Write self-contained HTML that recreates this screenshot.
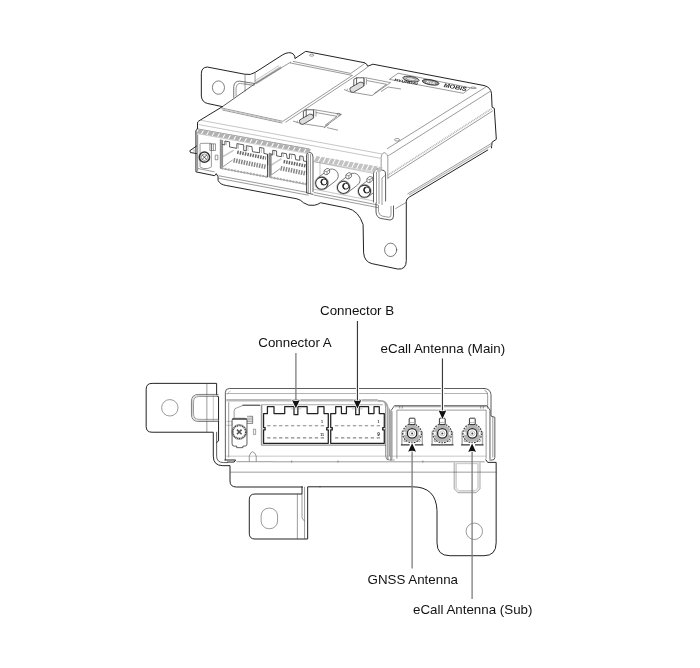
<!DOCTYPE html>
<html lang="en">
<head>
<meta charset="utf-8">
<title>Connector layout</title>
<style>
html,body{margin:0;padding:0;background:#fff;}
body{width:700px;height:668px;overflow:hidden;font-family:"Liberation Sans",sans-serif;}
svg{display:block;will-change:transform;opacity:0.999;}
.k{fill:none;stroke:#222;stroke-width:1;stroke-linejoin:round;stroke-linecap:round;}
.m{fill:none;stroke:#333;stroke-width:0.8;stroke-linejoin:round;stroke-linecap:round;}
.t{fill:none;stroke:#484848;stroke-width:0.55;stroke-linejoin:round;stroke-linecap:butt;}
.h{fill:none;stroke:#808080;stroke-width:0.45;stroke-linejoin:round;stroke-linecap:butt;}
.w{fill:#fff;}
.g{fill:none;stroke:#adadad;stroke-width:1.6;stroke-linejoin:round;stroke-linecap:butt;}
.k,.m,.t,.h,.g,.d{vector-effect:non-scaling-stroke;}
.d{fill:none;stroke:#888;stroke-width:1.1;stroke-dasharray:3.4 2.55;}
.lbl{font-family:"Liberation Sans",sans-serif;font-size:13.35px;fill:#111;}
.ld{fill:none;stroke:#707070;stroke-width:1.25;}
.ah{fill:#111;stroke:none;}
.tiny{font-family:"Liberation Sans",sans-serif;font-weight:bold;font-style:italic;fill:#222;}
</style>
</head>
<body>
<svg width="700" height="668" viewBox="0 0 700 668">
<rect x="0" y="0" width="700" height="668" fill="#fff"/>
<!-- top view right/back (3.889x coords, origin 340,30) -->
<g id="topTR" transform="translate(340 30) scale(0.257143)">
<path class="k" d="M94 127Q106 130 107.5 141L128 133L560 216Q586 222 589 246L591.5 300L600 304.5L608 425L591.5 436L589 458.5"/>
<!-- right face lines -->
<path class="t" d="M566.6 222L183 462 M583.4 239L187 489.6"/>
<path class="t" d="M594.6 314L187 575"/>
<path d="M589.6 306L187 564" fill="none" stroke="#b4b4b4" stroke-width="1.7" stroke-dasharray="1 .8" vector-effect="non-scaling-stroke"/>
<path class="t" d="M589 441L262 638"/>
<path class="g" d="M589 449L268 642" style="stroke:#b8b8b8;stroke-width:1.2"/>
<!-- front-right corner -->
<path class="t" d="M160 500Q160 480 172 477Q186 480 186 500V580 M160 500V560"/>
<ellipse class="m" cx="197" cy="855" rx="23.5" ry="26" style="stroke:#444;stroke-width:.7"/>
<path class="t" d="M258 670L215 695"/>
<!-- label -->
<path class="t" d="M192 192L226 168L508 225L480 246Z"/>
<ellipse cx="276" cy="191" rx="32" ry="10" transform="rotate(10 276 191)" fill="#bbb" stroke="#333" style="stroke-width:.9" vector-effect="non-scaling-stroke"/>
<ellipse cx="276" cy="191" rx="18" ry="5" transform="rotate(10 276 191)" fill="#eee" stroke="#555" style="stroke-width:.5" vector-effect="non-scaling-stroke"/>
<ellipse cx="352.5" cy="203.5" rx="33" ry="9.5" transform="rotate(10 352.5 203.5)" fill="#999" stroke="#222" style="stroke-width:.9" vector-effect="non-scaling-stroke"/>
<path class="t" d="M511 222Q522 220 530 226Q520 229 511 227Z"/>
<ellipse class="t" cx="222" cy="427" rx="10" ry="5"/>
<ellipse class="t" cx="-5" cy="328" rx="6" ry="4"/>
</g>
<g class="tiny" transform="translate(340 30) scale(0.257143) rotate(10.5)">
<text x="243" y="156" font-size="13.5" textLength="92" lengthAdjust="spacingAndGlyphs">HYUNDAI</text>
<text x="366" y="141" font-size="12" textLength="36" lengthAdjust="spacingAndGlyphs" style="fill:#fff">KIA</text>
<text x="436" y="144.5" font-size="22" textLength="90" lengthAdjust="spacingAndGlyphs">MOBIS</text>
</g>

<!-- top view, traced in 3.889x coords, origin 180,30 -->
<g id="topTL" transform="translate(180 30) scale(0.257143)">
<!-- tab -->
<path class="k" d="M165 298L108 286Q85 281 83 257V170Q83 145 106 144L252 172Q275 177 292 165L400 96Q425 82 440 93Q449 101 447 111L489 83L716 127"/>
<ellipse class="t" cx="149.5" cy="224" rx="23.5" ry="26" style="stroke:#555;stroke-width:.75"/>
<path class="t" d="M253 172V239 M292 167V206 M275 214L236 208Q220 207 218 226V257"/>
<path class="m" d="M290 208L232 199Q211 198 209 220V262" style="stroke:#444;stroke-width:.75"/>
<path class="g" d="M250 209L290 215" style="stroke:#999;stroke-width:.9"/>
<path class="h" d="M292 205L392 142 M295 211L395 148 M290 199L385 138"/>
<path class="g" d="M294 207L392 145" style="stroke-width:1.2;stroke:#aaa"/>
<!-- box left edge -->
<path class="k" d="M62 400V392Q62 388 68 385V362Q68 357 73 354L165 298"/>
<path class="m" d="M165 298L290 210"/>
<path class="t" d="M290 210L432 124"/>
<ellipse class="t" cx="512" cy="98" rx="8" ry="4"/>
<!-- raised cover -->
<path class="t" d="M439 122L664 169 M428 128L672 177 M160 303L400 355 M165 311L398 362"/>
<path class="g" d="M163 307L399 358" style="stroke-width:1;stroke:#c4c4c4"/>
<path class="t" d="M400 355L668 178 M410 359L680 180 M664 169L716 132 M680 180L730 144"/>

<!-- front top edge lines -->
<path class="h" d="M80 351L785 482 M72 367.5L780 499"/>
</g>

<!-- top view front face (3.889x coords, origin 180,150) -->
<g id="topBL" transform="translate(180 150) scale(0.257143)">
<!-- bottom outline -->
<path class="k" d="M62 -65V85L135 100L141 92L148 104V118Q156 135 180 138L455 190Q470 194 480 205Q500 219 522 215Q538 212 546 205L650 226Q695 236 712 290L714 400Q717 435 747 442L847 463Q880 466 880 430V200Q880 190 892 183L1197 0"/>
<!-- ear -->
<path class="k" d="M68 -18L38 3L41 10L66 14"/>
<path class="g" d="M68 -60V82" style="stroke:#999;stroke-width:1.4"/>
<path class="t" d="M78 -22Q78 -26 82 -26H118Q122 -26 122 -22V64Q122 68 118 68L108 72H92L82 68Q78 68 78 64Z"/>
<circle cx="95" cy="28" r="20" fill="none" stroke="#333" stroke-width="1.5" vector-effect="non-scaling-stroke"/>
<circle class="t" cx="95" cy="28" r="12.5"/>
<path class="m" d="M87 20L103 36M103 20L87 36"/>
<path class="t" d="M116 -24H138V2H116Z M123 -24V2 M130 -24V2 M137 20H147V38H137Z"/>
<path class="h" d="M50 0H62 M50 4H62"/>
<!-- lines under connectors -->
<path class="t" d="M150 100L500 166 M150 110L500 176 M70 72L135 85"/>
<!-- bay bottom lines -->
<path class="t" d="M520 165L700 200L770 214 M520 175L770 224"/>
</g>

<!-- top view: lip band, connectors, antennas (src coords) -->
<g id="topdet">
<!-- lip band outlines -->
<path class="t" d="M196.5 128.7L309.5 149"/>
<path class="h" d="M197 133.6L309 153.8 M314 161.6L378 172.8" style="stroke:#999"/>
<!-- connector A housing -->
<path d="M221.4 139.8V168.6" fill="none" stroke="#999" stroke-width="2"/>
<path class="t" d="M220.3 139.5V168.2L267 177 M222.6 140V166.4 M267.6 154.3V177"/>
<path d="M221.5 168.2L267 176.8" fill="none" stroke="#aaa" stroke-width="2.2" stroke-dasharray="1.8 1.4"/>
<path class="m" d="M222.6 144.5L224.9 144.9V141L229.6 141.9V147L236.9 148.3V143.6L243.7 144.8V150.4L246.3 150.9V145.7L251.9 146.6L252.5 151.7L259.6 152.8V147.4L263.9 148.3V153.4L267.7 154.3V165"/>
<path class="h" d="M226.5 141.3V145.2 M238.5 143.9V148.6 M248 146V151 M261.5 147.7V153"/>
<path d="M237.2 152.2L266 158.2" fill="none" stroke="#666" stroke-width="3.4" stroke-dasharray="1.5 1.1"/>
<path d="M233.5 160.3L266.5 167" fill="none" stroke="#888" stroke-width="4.6" stroke-dasharray="1.5 1.1"/>
<path d="M222.6 156.8L233.4 150.4" fill="none" stroke="#888" stroke-width="1.3" stroke-dasharray="0.7 0.5"/>
<path class="t" d="M222.6 167L232.6 160"/>
<!-- connector B housing -->
<path d="M270.2 153V176.8" fill="none" stroke="#999" stroke-width="1.7"/>
<path class="m" d="M267.6 154.3V177"/>
<path class="t" d="M269.3 152.6V177.2L306.6 184.4 M271.2 153V175.2 M306.6 161.4V184"/>
<path d="M270.5 177.2L306.6 184.2" fill="none" stroke="#aaa" stroke-width="2.2" stroke-dasharray="1.8 1.4"/>
<path class="m" d="M271.2 154.8L272.7 155V150.3L276.6 150.9V155.9L281.7 156.7V152.9L286.4 153.7L287.2 158.4L289.4 158.6V153.9L295 154.8L295.7 159.7L299.7 160.3V155.9L303.1 156.4L303.5 161L306.6 161.5V174.3"/>
<path class="h" d="M274.2 150.5V155.2 M283.5 153.2V157 M291.5 154.2V159 M301 156V160.6"/>
<path d="M283.6 161.5L305.7 165.9" fill="none" stroke="#666" stroke-width="3.4" stroke-dasharray="1.5 1.1"/>
<path d="M280.6 168.2L305.8 173.4" fill="none" stroke="#888" stroke-width="4.6" stroke-dasharray="1.5 1.1"/>
<path d="M270.5 165.6L281.3 158.9" fill="none" stroke="#888" stroke-width="1.3" stroke-dasharray="0.7 0.5"/>
<path class="t" d="M271.4 175L280 168.7"/>
<!-- divider post -->
<path class="m" d="M306.5 156Q306.5 152 310 152.3Q313 153 313 157V191.5 M306.5 156V193L313 194.3"/>
<path class="g" d="M308.2 154V193" style="stroke:#999;stroke-width:1.2"/>
<path class="t" d="M310.5 154V193.5"/>
<!-- bay -->
<path class="h" d="M313 161.5L374 173.5 M320 162V188 M313 189L374 201"/>
</g>
<g transform="translate(321.7 183.2)">
<path class="w" d="M-4 -5.25L6 -12.85A6.6 6.6 0 0 1 14 -2.35L4 5.25Z"/>
<path class="m" d="M-4 -5.25L6 -12.85A6.6 6.6 0 0 1 14 -2.35L4 5.25" style="stroke:#444;stroke-width:.7"/>
<path d="M2.4 -9.6V-12.6L5 -14.6Q7.2 -15.2 7.9 -13.4V-10.6L5.4 -8.6Q3.4 -8.2 2.4 -9.6Z" fill="#fff" stroke="#444" stroke-width=".7"/>
<path class="t" d="M2.4 -12.6Q4 -11.4 5.4 -11.8L7.9 -13.4 M5.4 -11.8V-8.6"/>
<circle class="w" r="6.6"/>
<circle r="6.1" fill="none" stroke="#333" stroke-width="1.05"/>
<circle class="h" r="6.9"/>
<circle cx="2.3" cy="-1.2" r="3" fill="#fff" stroke="#333" stroke-width="1"/>
<path d="M1 -3.8A3 3 0 0 0 1.6 1.6" fill="none" stroke="#222" stroke-width="1.4"/>
</g>
<g transform="translate(343.5 187.4)">
<path class="w" d="M-4 -5.25L6 -12.85A6.6 6.6 0 0 1 14 -2.35L4 5.25Z"/>
<path class="m" d="M-4 -5.25L6 -12.85A6.6 6.6 0 0 1 14 -2.35L4 5.25" style="stroke:#444;stroke-width:.7"/>
<path d="M2.4 -9.6V-12.6L5 -14.6Q7.2 -15.2 7.9 -13.4V-10.6L5.4 -8.6Q3.4 -8.2 2.4 -9.6Z" fill="#fff" stroke="#444" stroke-width=".7"/>
<path class="t" d="M2.4 -12.6Q4 -11.4 5.4 -11.8L7.9 -13.4 M5.4 -11.8V-8.6"/>
<circle class="w" r="6.6"/>
<circle r="6.1" fill="none" stroke="#333" stroke-width="1.05"/>
<circle class="h" r="6.9"/>
<circle cx="2.3" cy="-1.2" r="3" fill="#fff" stroke="#333" stroke-width="1"/>
<path d="M1 -3.8A3 3 0 0 0 1.6 1.6" fill="none" stroke="#222" stroke-width="1.4"/>
</g>
<g transform="translate(364.5 191.2)">
<path class="w" d="M-4 -5.25L6 -12.85A6.6 6.6 0 0 1 14 -2.35L4 5.25Z"/>
<path class="m" d="M-4 -5.25L6 -12.85A6.6 6.6 0 0 1 14 -2.35L4 5.25" style="stroke:#444;stroke-width:.7"/>
<path d="M2.4 -9.6V-12.6L5 -14.6Q7.2 -15.2 7.9 -13.4V-10.6L5.4 -8.6Q3.4 -8.2 2.4 -9.6Z" fill="#fff" stroke="#444" stroke-width=".7"/>
<path class="t" d="M2.4 -12.6Q4 -11.4 5.4 -11.8L7.9 -13.4 M5.4 -11.8V-8.6"/>
<circle class="w" r="6.6"/>
<circle r="6.1" fill="none" stroke="#333" stroke-width="1.05"/>
<circle class="h" r="6.9"/>
<circle cx="2.3" cy="-1.2" r="3" fill="#fff" stroke="#333" stroke-width="1"/>
<path d="M1 -3.8A3 3 0 0 0 1.6 1.6" fill="none" stroke="#222" stroke-width="1.4"/>
</g>
<g id="cornerpost">
<path class="w" d="M373 171L376 168.5L384.5 170.5V201L378 204L373 202Z"/>
<path class="m" d="M373.5 202V173.5Q373.5 170 377 168.8L384.2 170.6Q385.6 171.4 385.6 175V201"/>
<path class="t" d="M376.5 172V203 M379 171.5V204 M385.6 175L382 178V205"/>
<path class="m" d="M376 203V212Q376.5 217.5 381 218.5L390 220Q393.5 220 393.5 216V206"/>
<path class="t" d="M378.5 205V211.5Q379 215.5 382.5 216.2L389 217.3Q391 217.3 391 214.5V206"/>
</g>

<!-- hatched lip bands (generated) -->
<g id="bands">
<path d="M196.5 133.2L200.8 134.0L203.0 130.0L198.7 129.2ZM201.9 134.2L206.2 134.9L208.4 130.9L204.1 130.2ZM207.3 135.1L211.6 135.9L213.8 131.9L209.5 131.1ZM212.7 136.1L217.0 136.9L219.2 132.9L214.9 132.1ZM218.1 137.1L222.4 137.8L224.6 133.8L220.3 133.1ZM223.5 138.0L227.8 138.8L230.0 134.8L225.7 134.0ZM228.9 139.0L233.2 139.8L235.4 135.8L231.1 135.0ZM234.3 140.0L238.6 140.7L240.8 136.7L236.5 136.0ZM239.7 140.9L244.0 141.7L246.2 137.7L241.9 136.9ZM245.1 141.9L249.4 142.7L251.6 138.6L247.3 137.9ZM250.5 142.9L254.8 143.6L257.0 139.6L252.7 138.8ZM255.9 143.8L260.2 144.6L262.4 140.6L258.1 139.8ZM261.3 144.8L265.6 145.6L267.8 141.5L263.5 140.8ZM266.7 145.7L271.0 146.5L273.2 142.5L268.9 141.7ZM272.1 146.7L276.4 147.5L278.6 143.5L274.3 142.7ZM277.5 147.7L281.8 148.4L284.0 144.4L279.7 143.7ZM282.9 148.6L287.2 149.4L289.4 145.4L285.1 144.6ZM288.3 149.6L292.6 150.4L294.8 146.4L290.5 145.6ZM293.7 150.6L298.0 151.3L300.2 147.3L295.9 146.6ZM299.1 151.5L303.4 152.3L305.6 148.3L301.3 147.5ZM304.5 152.5L308.8 153.3L311.0 149.3L306.7 148.5Z" fill="#b2b2b2"/>
<path d="M314.0 161.2L317.7 161.8L320.3 156.7L316.6 156.0ZM318.8 162.0L322.5 162.6L325.1 157.5L321.4 156.9ZM323.6 162.8L327.3 163.5L329.9 158.3L326.2 157.7ZM328.4 163.7L332.1 164.3L334.7 159.1L331.0 158.5ZM333.2 164.5L336.9 165.1L339.5 159.9L335.8 159.3ZM338.0 165.3L341.7 165.9L344.3 160.8L340.6 160.1ZM342.8 166.1L346.5 166.7L349.1 161.6L345.4 160.9ZM347.6 166.9L351.3 167.5L353.9 162.4L350.2 161.8ZM352.4 167.7L356.1 168.4L358.7 163.2L355.0 162.6ZM357.2 168.6L360.9 169.2L363.5 164.0L359.8 163.4ZM362.0 169.4L365.7 170.0L368.3 164.8L364.6 164.2ZM366.8 170.2L370.5 170.8L373.1 165.7L369.4 165.0ZM371.6 171.0L375.3 171.6L377.9 166.5L374.2 165.8ZM376.4 171.8L380.1 172.4L382.7 167.3L379.0 166.7Z" fill="#c2c2c2"/>
</g>

<!-- top surface recesses and clips (src coords) -->
<g id="clips">
<!-- recess 1 -->
<path class="t" d="M313.5 109.5L341.5 114.4L324.3 127L299 123 M316 112.5L337 116.3L325 125.3 M293 121L299 123 M324 128L329 124.2 M327 127.6L338 130.2"/>
<path d="M299.6 120L309.6 114.2Q313 113.4 313.4 116.6V118.2L303 124.4Q299.6 124.8 299.6 121.8Z" fill="#ddd" stroke="#333" stroke-width=".8"/>
<path class="m" d="M303.4 117.6V111.4L306 109.8H313.6V116 M306.2 110V116"/>
<path class="t" d="M313.6 110V118 M316 110.5V116.5 M296.5 122L298 120.8"/>
<!-- recess 2 -->
<path class="t" d="M364.5 77.5L390.5 82.6L372 95.6L349.5 91.8 M367 80.6L386.5 84.3L374 93.6 M344 89.5L349.5 91.8 M381 91.6L388 87L401 89"/>
<path d="M350 88L360 82.2Q363.4 81.4 363.8 84.6V86.2L353.4 92.4Q350 92.8 350 89.8Z" fill="#ddd" stroke="#333" stroke-width=".8"/>
<path class="m" d="M353.8 85.6V79.4L356.4 77.8H364V84 M356.6 78V84"/>
<path class="t" d="M364 78V86 M366.4 78.5V84.5 M346.5 90L348 88.8"/>
</g>

<!-- bottom view: left tab + housing left (traced in 3.889x coords, origin 140,370) -->
<g id="botA" transform="translate(140 370) scale(0.257143)">
<path class="k" d="M298 282L305.5 276V104L298 100V52H47Q24 52 24 75V220Q24 242 47 242H285V335Q285 372 322 372H350V432Q350 455 375 455H632"/>
<path class="m" d="M298 242V335Q298 360 325 360H340"/>
<path class="t" d="M260 52V242"/>
<circle class="t" cx="116" cy="147" r="32"/>
<path class="t" d="M305 95H228Q200 95 200 123V172Q200 200 228 200H305" style="stroke:#444;stroke-width:.7"/>
<path class="t" d="M305 103H230Q208 103 208 125V170Q208 192 230 192H305"/>
<path class="g" d="M305 99H229Q204 99 204 124V171Q204 196 229 196H305" style="stroke:#ccc;stroke-width:.9"/>
<path class="h" d="M285 95V200"/>
<!-- housing -->
<path class="m" d="M1340 72H347Q332 72 332 87V350"/>
<path class="k" d="M330 350H372L366 358H340"/>
<path class="h" d="M352 82Q342 84 341 95"/>
<path class="g" d="M334 91.5H1352" style="stroke:#aaa;stroke-width:.9"/>
<path class="t" d="M345 125V340"/>
<path class="g" d="M336 118H925" style="stroke:#bababa;stroke-width:2.5"/>
<path class="h" d="M335 335H1345"/>
<path class="g" d="M375 356H520" style="stroke-width:1.3"/>
<path class="t" d="M520 357H1340 M590 352V360 M770 352V360 M1100 352V360"/>
<!-- screw block -->
<path class="m" d="M358 195Q358 188 366 188H408Q416 188 416 195V288Q416 296 408 296H400V302H376V296H366Q358 296 358 288Z"/>
<circle cx="386" cy="241" r="25" fill="none" stroke="#444" stroke-width="1.5" stroke-dasharray="1.2 .6" vector-effect="non-scaling-stroke"/>
<circle class="t" cx="386" cy="241" r="29"/>
<path d="M377 232L395 250M395 232L377 250" fill="none" stroke="#555" stroke-width="1.6" vector-effect="non-scaling-stroke"/>
<path class="t" d="M416 180H438V208H416 M416 187H438 M416 194H438 M416 201H438"/>
<path class="t" d="M366 188V160Q366 147 380 146L400 138H468"/>
<path class="m" d="M400 136.5H466"/>
<path class="m" d="M360 191H414" style="stroke-width:1.1;stroke:#444"/>
<path class="h" d="M336 200H358V215H336 M441 230H450V250H441Z"/>
<path class="t" d="M425 356V335Q430 318 438 318Q446 318 452 335V356"/>
</g>

<!-- connectors A and B (traced in 7x coords) -->
<g id="connA" transform="translate(250 395) scale(0.142857)">
<path class="g" d="M78 68.5H930" style="stroke:#a8a8a8;stroke-width:1.1"/>
<path class="g" d="M81 70V350" style="stroke:#999;stroke-width:1.6"/>
<path class="g" d="M79 351H950" style="stroke:#999;stroke-width:1.1"/>
<path class="k" style="stroke-width:1.25" d="M95 338V245H106V228H95V130H122V82H168V130H243V82H308V138H335V82H400V130H475V82H518V130H548V228H537V245H548V338Z"/>
<path class="h" d="M285 97H360"/>
<path class="d" d="M120 215H520M120 300H520"/>
<path class="h" d="M25 240H38V278H25Z M0 150H18V200H0"/>
</g>
<g id="connB" transform="translate(320 395) scale(0.142857)">
<path class="k" style="stroke-width:1.25" d="M75 338V245H86V228H75V130H110V82H150V130H185V82H250V138H275V82H340V130H378V82H415V130H450V228H439V245H450V338Z"/>
<path class="h" d="M222 97H300"/>
<path class="d" d="M105 215H425M105 300H425"/>

</g>
<g class="tiny" style="font-style:normal" font-size="3.6">
<text x="321" y="422.5">1</text><text x="320.2" y="435.5">11</text>
<text x="377.5" y="422.5">1</text><text x="377.3" y="435.8" font-size="4.6">9</text>
</g>

<!-- bottom view right part (3.889x coords, origin 320,370) -->
<g id="botB" transform="translate(320 370) scale(0.257143)">
<path class="m" d="M640 72Q662 73 665 95V179L680 184V340Q680 350 670 350H660"/>
<path class="t" d="M640 80Q652 82 652 100V150 M672 182V340"/>

<!-- connector housing right end -->
<path class="g" d="M225 120H236Q258 120 263 145V350" style="stroke-width:1.9;stroke:#a6a6a6"/>
<path class="t" d="M252 130Q255 132 255 150V330Q255 350 270 350H290 M270 150V335"/>
<!-- antenna bay -->
<path class="m" d="M276 350V158L290 138.5H649L661 156V345"/>
<path class="g" d="M291 142H648 M279.5 160V345" style="stroke-width:1.5;stroke:#a6a6a6"/>
<path class="t" d="M299 345V156H646V345 M310 140V150 M320 140V150 M625 140V150 M635 140V150"/>
</g>
<g transform="translate(412.1 433.4)">
<path class="w" d="M-10.8 11.4V0A10 10 0 1 1 10.8 0V11.4Z"/>
<path d="M-10.2 11V-2M10.2 11V-2" fill="none" stroke="#a8a8a8" stroke-width="1.4"/>
<circle r="7.1" fill="none" stroke="#b4b4b4" stroke-width="3.2"/>
<circle r="9.4" fill="none" stroke="#333" stroke-width="1.1" stroke-dasharray="1.7 1.1"/>
<path d="M-2.9 -8.8V-14.4Q-2.9 -15.2 -2.1 -15.2H2.1Q2.9 -15.2 2.9 -14.4V-8.8Z" fill="#fff" stroke="#333" stroke-width="1"/>
<path d="M-2.4 -10.8H2.4" fill="none" stroke="#bbb" stroke-width="1"/>
<circle r="4.7" fill="#fff" stroke="#222" stroke-width="1.3"/>
<circle r="2.5" fill="none" stroke="#bbb" stroke-width=".9"/>
<circle r="1" fill="#444"/>
<path d="M-11.2 11.5H-2.5M2.7 11.5H11.2" fill="none" stroke="#333" stroke-width="1.2"/>
<circle cx="-7.2" cy="7.3" r="1" fill="#fff" stroke="#555" stroke-width=".5"/>
<circle cx="7.2" cy="7.3" r="1" fill="#fff" stroke="#555" stroke-width=".5"/>
<path d="M-7.3 -1.5A7.4 7.4 0 0 0 -7.3 1.5M7.3 -1.5A7.4 7.4 0 0 1 7.3 1.5" fill="none" stroke="#fff" stroke-width="1.6"/>
</g>
<g transform="translate(442.3 433.4)">
<path class="w" d="M-10.8 11.4V0A10 10 0 1 1 10.8 0V11.4Z"/>
<path d="M-10.2 11V-2M10.2 11V-2" fill="none" stroke="#a8a8a8" stroke-width="1.4"/>
<circle r="7.1" fill="none" stroke="#b4b4b4" stroke-width="3.2"/>
<circle r="9.4" fill="none" stroke="#333" stroke-width="1.1" stroke-dasharray="1.7 1.1"/>
<path d="M-2.9 -8.8V-14.4Q-2.9 -15.2 -2.1 -15.2H2.1Q2.9 -15.2 2.9 -14.4V-8.8Z" fill="#fff" stroke="#333" stroke-width="1"/>
<path d="M-2.4 -10.8H2.4" fill="none" stroke="#bbb" stroke-width="1"/>
<circle r="4.7" fill="#fff" stroke="#222" stroke-width="1.3"/>
<circle r="2.5" fill="none" stroke="#bbb" stroke-width=".9"/>
<circle r="1" fill="#444"/>
<path d="M-11.2 11.5H-2.5M2.7 11.5H11.2" fill="none" stroke="#333" stroke-width="1.2"/>
<circle cx="-7.2" cy="7.3" r="1" fill="#fff" stroke="#555" stroke-width=".5"/>
<circle cx="7.2" cy="7.3" r="1" fill="#fff" stroke="#555" stroke-width=".5"/>
<path d="M-7.3 -1.5A7.4 7.4 0 0 0 -7.3 1.5M7.3 -1.5A7.4 7.4 0 0 1 7.3 1.5" fill="none" stroke="#fff" stroke-width="1.6"/>
</g>
<g transform="translate(472.3 433.4)">
<path class="w" d="M-10.8 11.4V0A10 10 0 1 1 10.8 0V11.4Z"/>
<path d="M-10.2 11V-2M10.2 11V-2" fill="none" stroke="#a8a8a8" stroke-width="1.4"/>
<circle r="7.1" fill="none" stroke="#b4b4b4" stroke-width="3.2"/>
<circle r="9.4" fill="none" stroke="#333" stroke-width="1.1" stroke-dasharray="1.7 1.1"/>
<path d="M-2.9 -8.8V-14.4Q-2.9 -15.2 -2.1 -15.2H2.1Q2.9 -15.2 2.9 -14.4V-8.8Z" fill="#fff" stroke="#333" stroke-width="1"/>
<path d="M-2.4 -10.8H2.4" fill="none" stroke="#bbb" stroke-width="1"/>
<circle r="4.7" fill="#fff" stroke="#222" stroke-width="1.3"/>
<circle r="2.5" fill="none" stroke="#bbb" stroke-width=".9"/>
<circle r="1" fill="#444"/>
<path d="M-11.2 11.5H-2.5M2.7 11.5H11.2" fill="none" stroke="#333" stroke-width="1.2"/>
<circle cx="-7.2" cy="7.3" r="1" fill="#fff" stroke="#555" stroke-width=".5"/>
<circle cx="7.2" cy="7.3" r="1" fill="#fff" stroke="#555" stroke-width=".5"/>
<path d="M-7.3 -1.5A7.4 7.4 0 0 0 -7.3 1.5M7.3 -1.5A7.4 7.4 0 0 1 7.3 1.5" fill="none" stroke="#fff" stroke-width="1.6"/>
</g>
<path d="M439.5 444.9H445" fill="none" stroke="#333" stroke-width="1.2"/>

<!-- bottom bracket (3.889x coords) -->
<g id="botC" transform="translate(140 440) scale(0.257143)">
<path class="k" d="M630 182V210H447Q425 210 425 232V363Q425 385 447 385H652V182H700"/>
<path class="t" d="M612 210V385 M630 210V300Q632 312 640 314 M640 182V385"/>
<rect class="t" x="471" y="265" width="64" height="80" rx="30" ry="30"/>
<path class="t" d="M350 125H700"/>
</g>
<g id="botD" transform="translate(320 440) scale(0.257143)">
<path class="k" d="M0 182H360Q452 182 455 275V400Q455 450 505 450H638Q685 450 685 400V87H652L645 77"/>
<circle class="t" cx="600" cy="355" r="32"/>
<path class="t" d="M522 88V190L537 205H607L622 190V88"/>
<path class="g" d="M526 90V188L539 201H605L618 188V90" style="stroke:#ddd;stroke-width:.9"/>
<path class="h" d="M530 92V186L541 197H603L614 186V92H530"/>
<path class="t" d="M0 125H688"/>
</g>

<!-- leader lines and labels -->
<g id="labels">
<path d="M357.45 384V402 M442.45 384V412" fill="none" stroke="#fff" stroke-width="3.2"/>
<path d="M295.9 353V402 M412.1 568.5V450 M472.1 599V450" fill="none" stroke="#7e7e7e" stroke-width="1.3"/>
<path d="M357.45 321V402 M442.45 358.5V412" fill="none" stroke="#3a3a3a" stroke-width="1.15"/>
<path d="M295.9 408.3l-3.9-8.4q3.9 2 7.8 0z M357.45 408.5l-3.9-8.4q3.9 2 7.8 0z M442.45 418.9l-3.9-8.7q3.9 2 7.8 0z M412.1 443.3l-3.9 8.4q3.9-2 7.8 0z M472.1 443.5l-3.9 8.6q3.9-2 7.8 0z" fill="#111" stroke="#fff" stroke-width="1.4" paint-order="stroke" stroke-linejoin="round"/>
<text class="lbl" x="320" y="314.5">Connector B</text>
<text class="lbl" x="258.3" y="346.7">Connector A</text>
<text class="lbl" x="380.6" y="352.5">eCall Antenna (Main)</text>
<text class="lbl" x="367.5" y="583.8">GNSS Antenna</text>
<text class="lbl" x="413" y="613.8">eCall Antenna (Sub)</text>
</g>

</svg>
</body>
</html>
